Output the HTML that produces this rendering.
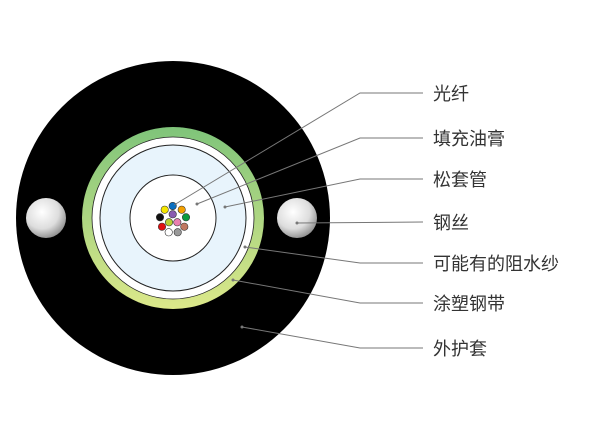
<!DOCTYPE html>
<html><head><meta charset="utf-8"><style>
html,body{margin:0;padding:0;background:#fff;width:600px;height:439px;overflow:hidden}
text{font-family:"Liberation Sans","Noto Sans CJK SC",sans-serif;font-size:18px;fill:#333}
</style></head><body>
<svg width="600" height="439" viewBox="0 0 600 439" xmlns="http://www.w3.org/2000/svg">
<defs>
<linearGradient id="g" x1="0" y1="0" x2="0" y2="1"><stop offset="0" stop-color="#7fc47a"/><stop offset="1" stop-color="#dce88a"/></linearGradient>
<radialGradient id="s" cx="0.4" cy="0.35" r="0.7"><stop offset="0" stop-color="#fff"/><stop offset="0.6" stop-color="#ddd"/><stop offset="1" stop-color="#888"/></radialGradient>
</defs>
<circle cx="173" cy="218" r="157" fill="#000"/>
<circle cx="46" cy="218" r="20" fill="url(#s)"/>
<circle cx="297" cy="218" r="20" fill="url(#s)"/>
<circle cx="173" cy="218" r="91" fill="url(#g)"/>
<circle cx="173" cy="218" r="81" fill="#fff" stroke="#222" stroke-width="0.8"/>
<circle cx="173" cy="218" r="73" fill="#e8f4fc" stroke="#222" stroke-width="1"/>
<circle cx="173" cy="218" r="43" fill="#fff" stroke="#222" stroke-width="1"/>
<g stroke="#333" stroke-width="0.6">
<circle cx="164.7" cy="209.7" r="3.7" fill="#f5e600"/>
<circle cx="172.7" cy="206" r="3.7" fill="#0a6fc2"/>
<circle cx="181.7" cy="209.7" r="3.7" fill="#f4a000"/>
<circle cx="160" cy="217.3" r="3.7" fill="#111"/>
<circle cx="172.7" cy="214.3" r="3.7" fill="#8a5bb0"/>
<circle cx="186" cy="217.3" r="3.7" fill="#0a9a40"/>
<circle cx="169" cy="222.3" r="3.7" fill="#b8d030"/>
<circle cx="177.3" cy="222.3" r="3.7" fill="#ea7fb0"/>
<circle cx="162" cy="226.7" r="3.7" fill="#e01010"/>
<circle cx="184.3" cy="226.7" r="3.7" fill="#c07860"/>
<circle cx="168.7" cy="232.3" r="3.7" fill="#fff"/>
<circle cx="177.7" cy="232.3" r="3.7" fill="#999"/>
</g>
<g stroke="#777" stroke-width="1" fill="none">
<polyline points="174,205 360,93 423,93"/>
<polyline points="197,204 360,138 423,138"/>
<polyline points="225,207 360,179 423,179"/>
<polyline points="297,223 423,222"/>
<polyline points="245,247 360,263 423,263"/>
<polyline points="233,280 360,303 423,303"/>
<polyline points="242,327 360,348 423,348"/>
</g>
<g fill="#777">
<circle cx="197" cy="204" r="1.5"/><circle cx="225" cy="207" r="1.5"/><circle cx="297" cy="223" r="1.5"/>
<circle cx="245" cy="247" r="1.5"/><circle cx="233" cy="280" r="1.5"/><circle cx="242" cy="327" r="1.5"/>
</g>
<text x="433" y="100">光纤</text>
<text x="433" y="145">填充油膏</text>
<text x="433" y="186">松套管</text>
<text x="433" y="229">钢丝</text>
<text x="433" y="270">可能有的阻水纱</text>
<text x="433" y="310">涂塑钢带</text>
<text x="433" y="355">外护套</text>
</svg>
</body></html>
